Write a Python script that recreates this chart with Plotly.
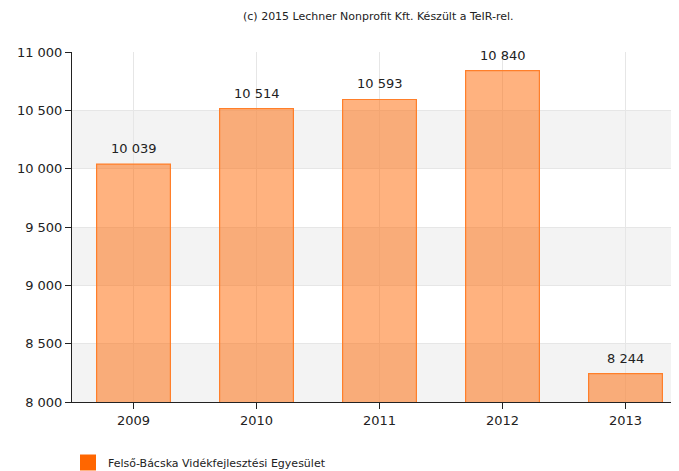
import plotly.graph_objects as go

years = ["2009", "2010", "2011", "2012", "2013"]
values = [10039, 10514, 10593, 10840, 8244]
series_name = "Felső-Bácska Vidékfejlesztési Egyesület"
title_text = "(c) 2015 Lechner Nonprofit Kft. Készült a TeIR-rel."
y_ticks = [8000, 8500, 9000, 9500, 10000, 10500, 11000]

FONT = "DejaVu Sans, Verdana, sans-serif"

# page body has an 8px margin, so the figure is laid out 8px smaller
W, H = 671, 463
L, T, B = 64, 44, 69
PW, PH = W - L, H - T - B

fig = go.Figure()
fig.add_trace(go.Bar(
    x=years, y=values,
    width=0.6,
    marker=dict(color="rgba(255,102,0,0.5)", line=dict(color="#FF7F2A", width=1.2)),
    showlegend=False,
    hoverinfo="skip",
))
fig.add_trace(go.Scatter(
    x=[None], y=[None], mode="markers", name=series_name,
    marker=dict(symbol="square", size=20, color="#FF6600"),
    showlegend=True,
))

shapes = []
for i in range(0, len(y_ticks) - 1, 2):
    shapes.append(dict(type="rect", xref="paper", yref="y", x0=0, x1=1,
                       y0=y_ticks[i], y1=y_ticks[i + 1],
                       fillcolor="#F3F3F3", line=dict(width=0), layer="below"))

annotations = [dict(text=title_text, xref="paper", yref="paper",
                    x=(370 - L) / PW, y=1 + (T - 8) / PH,
                    xanchor="center", yanchor="middle", showarrow=False,
                    font=dict(family=FONT, size=11, color="#222222"))]
for idx, v in enumerate(values):
    annotations.append(dict(x=idx, y=v, xref="x", yref="y",
                            text=f"{v:,}".replace(",", " "),
                            showarrow=False, yanchor="bottom", yshift=6,
                            font=dict(family=FONT, size=13, color="#222222")))

fig.update_layout(
    width=W, height=H,
    margin=dict(l=L, r=0, t=T, b=B, autoexpand=False),
    paper_bgcolor="white", plot_bgcolor="white",
    separators=", ",
    font=dict(family=FONT, size=13, color="#222222"),
    shapes=shapes,
    annotations=annotations,
    xaxis=dict(
        type="category", range=[-0.5, 4.435],
        showgrid=True, gridcolor="#E6E6E6", gridwidth=1,
        showline=True, linecolor="#222222", linewidth=1,
        ticks="outside", ticklen=6, tickcolor="#222222",
        tickfont=dict(family=FONT, size=13, color="#222222"),
    ),
    yaxis=dict(
        range=[8000, 11000], tickvals=y_ticks, tickformat=",",
        showgrid=True, gridcolor="#E6E6E6", gridwidth=1,
        showline=True, linecolor="#222222", linewidth=1,
        ticks="outside", ticklen=6, tickcolor="#222222",
        tickfont=dict(family=FONT, size=13, color="#222222"),
        zeroline=False,
    ),
    legend=dict(orientation="h",
                x=(60 - L) / PW, xanchor="left",
                y=-(440 - (T + PH)) / PH, yanchor="top",
                font=dict(family=FONT, size=11, color="#222222"),
                bgcolor="rgba(0,0,0,0)", itemwidth=30),
)

fig.write_html("out.html")
